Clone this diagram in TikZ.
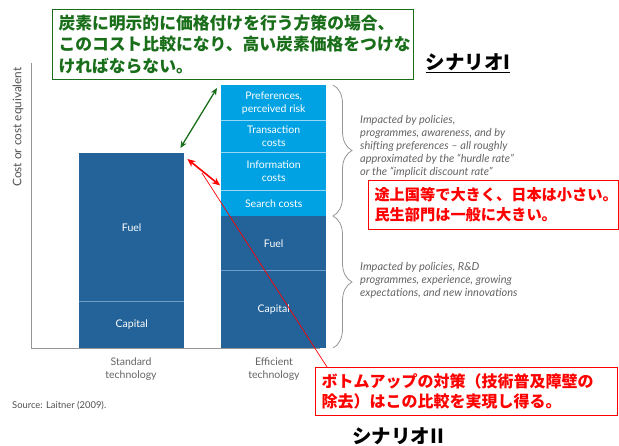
\documentclass[tikz,border=0pt]{standalone}
\usepackage{fontspec}
\setmainfont{Lato}
\newfontfamily\jp{Noto Sans CJK JP}
\usetikzlibrary{decorations.pathreplacing,arrows.meta}
\definecolor{lblue}{RGB}{0,162,227}
\definecolor{dblue}{RGB}{35,99,153}
\definecolor{lsep}{RGB}{150,215,245}
\definecolor{dsep}{RGB}{110,155,200}
\definecolor{gtxt}{RGB}{100,100,100}
\definecolor{axisgray}{RGB}{150,150,150}
\definecolor{jgreen}{RGB}{25,110,25}
\definecolor{jred}{RGB}{255,0,0}
\begin{document}
\begin{tikzpicture}[x=1pt,y=-1pt,
  seg/.style={inner sep=0pt, minimum width=105pt, anchor=north west, text=white,
    font=\fontsize{10.5}{13}\selectfont, align=center},
  lseg/.style={seg, fill=lblue},
  dseg/.style={seg, fill=dblue},
  sepline/.style={draw=lsep, line width=0.8pt},
  dsepline/.style={draw=dsep, line width=0.8pt},
  bracestyle/.style={draw=axisgray, line width=0.8pt, decorate, decoration={brace, amplitude=19pt, aspect=0.5}},
  note/.style={anchor=north west, align=left, text=gtxt, inner sep=0pt,
    font=\fontsize{11}{13}\selectfont\itshape},
  jpbox/.style={anchor=north west, align=left, line width=1pt, inner xsep=6pt, inner ysep=0pt},
  scen/.style={font=\jp\bfseries\fontsize{19.5}{22}\selectfont, inner sep=0pt}
]
\useasboundingbox (0,0) rectangle (619,446);

% axes
\draw[axisgray, line width=0.9pt] (31,63) -- (31,348) -- (320,348);
\node[rotate=90, text=gtxt!80!black, font=\fontsize{11.8}{13}\selectfont] (ylab) at (18,127) {Cost or cost equivalent};

% standard bar
\node[dseg, minimum height=148pt] (sfuel) at (79,153) {Fuel};
\node[dseg, minimum height=47pt] (scap) at (79,301) {Capital};
\draw[dsepline] (sfuel.south west) -- (sfuel.south east);

% efficient bar
\node[lseg, minimum height=35pt] (pref) at (221,85) {Preferences,\\perceived risk};
\node[lseg, minimum height=32pt] (trans) at (221,120) {Transaction\\costs};
\node[lseg, minimum height=38pt] (info) at (221,152) {Information\\costs};
\node[lseg, minimum height=26pt] (search) at (221,190) {Search costs};
\node[dseg, minimum height=54pt] (efuel) at (221,216) {Fuel};
\node[dseg, minimum height=78pt] (ecap) at (221,270) {Capital};
\draw[sepline] (pref.south west) -- (pref.south east);
\draw[sepline] (trans.south west) -- (trans.south east);
\draw[sepline] (info.south west) -- (info.south east);
\draw[dsepline] (efuel.south west) -- (efuel.south east);

% bar labels
\node[align=center, text=gtxt, font=\fontsize{10.5}{13}\selectfont] (stdlab) at (131,369) {Standard\\technology};
\node[align=center, text=gtxt, font=\fontsize{10.5}{13}\selectfont] (efflab) at (274,369) {Efficient\\technology};
\node[anchor=west, text=gtxt!80!black, inner sep=0pt, font=\fontsize{9.4}{11}\selectfont] (src) at (12,406) {Source: Laitner (2009).};

% braces
\draw[bracestyle] (333,85) -- (333,216);
\draw[bracestyle] (333,216) -- (333,348);
\node[note] (note1) at (360,115) {Impacted by policies,\\programmes, awareness, and by\\shifting preferences -- all roughly\\approximated by the “hurdle rate”\\or the “implicit discount rate”};
\node[note] (note2) at (360,262) {Impacted by policies, R\&D\\programmes, experience, growing\\expectations, and new innovations};

% Japanese boxes
\node[jpbox, draw=jgreen, fill=white, text=jgreen, minimum width=361pt, minimum height=70pt, text width=349pt,
  font=\jp\bfseries\fontsize{16.8}{21.5}\selectfont] (gbox) at (52,9)
  {炭素に明示的に価格付けを行う方策の場合、\\このコスト比較になり、高い炭素価格をつけな\\ければならない。};
\node[jpbox, draw=jred, fill=white, text=jred, minimum width=250pt, minimum height=49pt, text width=238pt,
  font=\jp\bfseries\fontsize{15.2}{20}\selectfont] (rbox1) at (368,180)
  {途上国等で大きく、日本は小さい。\\民生部門は一般に大きい。};
\node[jpbox, draw=jred, fill=white, text=jred, minimum width=302pt, minimum height=48pt, text width=290pt,
  font=\jp\bfseries\fontsize{16}{20}\selectfont] (rbox2) at (315,367)
  {ボトムアップの対策（技術普及障壁の\\除去）はこの比較を実現し得る。};

\node[scen] (sc1) at (468,63) {\underline{シナリオI}};
\node[scen] (sc2) at (398,437) {\underline{シナリオII}};

% arrows
\draw[jgreen, line width=1.3pt, {Stealth[length=7pt,width=6pt]}-{Stealth[length=7pt,width=6pt]}]
  ([xshift=-4pt,yshift=5pt]sfuel.north east) -- ([xshift=-4pt,yshift=-3pt]pref.north west);
\draw[jred, line width=1.6pt, {Stealth[length=8pt,width=7pt]}-{Stealth[length=8pt,width=7pt]}]
  ([xshift=3pt,yshift=-6pt]sfuel.north east) -- ([xshift=-1pt,yshift=5pt]info.south west);
\coordinate (rstart) at (202,173);
\draw[jred, line width=0.7pt] (rstart) -- ([xshift=12pt]rbox2.north west);
\end{tikzpicture}
\end{document}
